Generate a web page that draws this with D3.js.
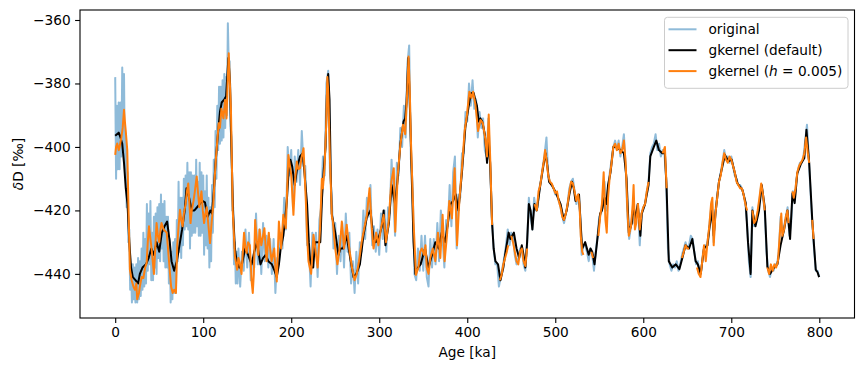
<!DOCTYPE html>
<html>
<head>
<meta charset="utf-8">
<script src="https://cdn.jsdelivr.net/npm/d3@7"></script>
<style>
  html, body { margin: 0; padding: 0; background: #fff; }
  svg { display: block; font-family: "DejaVu Sans", sans-serif; }
</style>
</head>
<body>
<svg id="chart" width="864" height="371"></svg>
<script>
// ---------------- DATA ----------------
const xTicks = [0, 100, 200, 300, 400, 500, 600, 700, 800];
const yTicks = [-440, -420, -400, -380, -360];
const xLabel = "Age [ka]";
const legendLabels = ["original", "gkernel (default)", "gkernel (h = 0.005)"];

// original record, 0–139 ka (1 ka steps)
const origSeg1 = [-378,-410,-387,-407,-386,-407,-386,-403,-375,-401,-377,-407,-396,-419,-408,-430,-426,-445,-437,-449,
  -437,-448,-438,-449,-437,-449,-435,-448,-436,-447,-432,-445,-427,-444,-429,-443,-418,-439,-421,-437,
  -417,-442,-427,-442,-422,-438,-421,-440,-419,-435,-418,-436,-415,-432,-418,-436,-417,-438,-422,-438,
  -422,-443,-429,-449,-433,-448,-430,-446,-429,-446,-423,-436,-411,-433,-416,-435,-416,-431,-410,-426,
  -409,-425,-405,-426,-408,-432,-408,-428,-409,-427,-409,-427,-404,-425,-411,-428,-405,-428,-408,-427,
  -409,-434,-414,-431,-409,-432,-416,-438,-419,-436,-412,-427,-404,-419,-395,-410,-387,-401,-381,-399,
  -381,-398,-379,-397,-377,-394,-378,-390,-361,-374,-373,-394,-397,-420,-419,-437,-430,-443,-433,-443];
// original record, 140–420 ka (2 ka steps)
const origSeg2 = [-432,-444,-433,-439,-426,-438,-427,-442,-435,-438,-421,-437,-426,-440,-424,-436,-428,-438,-429,-440,
  -429,-446,-435,-437,-427,-432,-416,-426,-400,-409,-401,-419,-403,-411,-401,-412,-395,-406,-406,-431,
  -431,-444,-427,-434,-427,-441,-423,-419,-403,-409,-380,-376,-408,-415,-432,-424,-440,-428,-436,-424,
  -438,-421,-433,-427,-443,-436,-446,-433,-443,-430,-433,-420,-429,-416,-422,-412,-431,-425,-433,-426,
  -434,-421,-429,-420,-433,-419,-421,-404,-416,-428,-405,-409,-394,-400,-387,-397,-374,-368,-404,-412,
  -440,-442,-432,-439,-428,-439,-428,-441,-444,-429,-438,-429,-437,-424,-436,-420,-429,-438,-423,-425,
  -412,-425,-408,-403,-432,-415,-416,-402,-402,-389,-392,-380,-387,-379,-388,-385,-397,-389,-394,-391,-401];
// original record, 422–800 ka (2 ka steps)
const origSeg3 = [-403,-391,-405,-422,-432,-437,-437,-444,-441,-438,-435,-431,-426,-431,-427,-428,-434,-437,-435,-432,
  -432,-437,-439,-431,-416,-422,-426,-416,-420,-419,-413,-410,-406,-402,-397,-409,-411,-412,-413,-415,
  -415,-417,-419,-422,-424,-421,-418,-413,-411,-410,-414,-418,-415,-420,-434,-431,-431,-433,-436,-432,
  -434,-439,-433,-428,-422,-421,-419,-411,-420,-413,-408,-404,-400,-398,-401,-398,-403,-400,-396,-406,
  -422,-429,-425,-420,-424,-422,-418,-431,-421,-419,-418,-414,-411,-402,-400,-399,-396,-401,-399,-403,
  -401,-402,-410,-432,-437,-439,-437,-438,-436,-439,-437,-434,-432,-430,-432,-431,-428,-429,-433,-437,
  -436,-440,-439,-433,-431,-431,-428,-422,-417,-430,-420,-415,-411,-408,-405,-401,-404,-403,-405,-403,
  -406,-409,-410,-412,-412,-413,-415,-418,-424,-436,-441,-419,-425,-424,-421,-417,-412,-416,-420,-433,
  -439,-441,-438,-439,-437,-437,-433,-422,-427,-425,-422,-419,-428,-424,-414,-417,-410,-407,-405,-405,
  -403,-398,-393,-403,-414,-424,-432,-439,-439,-441];

// gkernel with default bandwidth: [age ka, dD permil]
const gkDefault = [[0,-396.5],[2,-396],[4,-395.5],[6,-397],[8,-399],[10,-405],[12,-413],[14,-418],[16,-430],[18,-438],[20,-441],[23,-442],[26,-443],[28,-440],[31,-438],[35,-437],[38,-435],[41,-432],[44,-434],[47,-430],[50,-433],[53,-427],[56,-425],[59,-423.5],[62,-430],[64,-436],[67,-439],[70,-436],[73,-431],[76,-426],[79,-420],[81,-413],[84,-416],[87,-420],[90,-420],[93,-419],[96,-418],[99,-417],[102,-417.5],[105,-422],[108,-420],[110,-421],[112,-414],[114,-405],[117,-395],[119,-389],[121,-386],[124,-385],[126,-384],[128.6,-372],[130.5,-380],[132,-400],[134,-421],[136,-432],[138,-436],[141,-438],[144,-437],[147.6,-432],[151,-434],[155,-437],[158,-433],[161,-430],[165,-437],[168,-435],[171,-434],[174,-436],[178,-437],[181,-439],[183.6,-441],[186,-437],[188,-432],[191,-428],[193,-423],[195,-417],[197,-408],[199,-404],[201,-406],[204,-412],[207,-406],[210,-403],[213,-402],[215,-408],[218,-418],[220,-430],[222,-438],[225,-438],[227,-430],[230,-430],[233,-430],[235,-416],[237,-407],[239,-400],[240.5,-384],[242,-377],[243.5,-385],[245,-410],[246,-421],[250,-427],[253.7,-434],[256,-432],[259,-432],[263,-428],[267,-435],[270.8,-441],[274,-440],[278,-437],[282,-428],[286,-422],[290,-420],[293.5,-429],[296,-430],[300,-428],[303,-425],[305,-420],[307,-431],[311,-424],[314,-412],[318,-418],[321,-410],[324,-399],[327.6,-392],[329.5,-391],[331,-386],[333,-372],[335,-389],[337,-410],[339,-430],[341,-440],[344,-438],[347,-437],[350,-434],[352,-432],[356,-438],[360,-434],[363.7,-430],[367.5,-432],[371,-427],[375,-430],[378,-424],[381,-418],[384,-417],[387,-415],[390,-420],[394,-408],[397.8,-394],[400,-390],[403.5,-384],[405,-383],[407.3,-383],[409,-385],[411,-387],[413,-392],[415,-391],[417,-392],[420,-396],[422.5,-405],[424.4,-398],[426,-405],[428.2,-424],[430,-432],[432,-436],[435,-437],[437.7,-442],[441,-438],[443,-434],[445.3,-430],[447,-427],[449,-429],[451,-428],[453,-427],[456,-432],[459,-435],[462,-431],[464,-434],[466,-438],[468,-430],[470,-418],[472,-420],[474,-426],[476.3,-418],[479,-420],[483,-412],[487,-405],[489,-402],[491,-406],[493,-411],[496,-412],[500,-414],[503,-416],[506,-418],[509.7,-423],[513,-420],[516,-415],[519,-411],[521,-413],[523,-417],[527,-415],[529,-425],[530.6,-432],[534,-430],[538,-434],[540,-432],[542,-433],[544.6,-437],[547.5,-430],[551,-421],[553,-420],[556,-416],[558,-418],[560,-412],[562.8,-408],[566,-400],[570,-400],[574,-401],[578,-402],[581,-410],[583.6,-427],[587,-424],[589,-418],[591,-423],[593.7,-418],[596.7,-428],[598.3,-421],[602,-418],[606,-412],[608,-403],[612,-400],[614.8,-398],[617.8,-401],[621.6,-402],[624.6,-402],[626.5,-413],[629,-436],[633,-438],[637,-437],[641,-438.5],[644.4,-435],[648,-431],[652,-432],[655.7,-429],[659.5,-436],[662,-437],[665.2,-440],[669,-432],[673,-431],[675,-426],[678,-420],[680,-428],[682,-421],[686,-411],[690,-406],[692.8,-402.5],[696.6,-404.5],[700.4,-404],[703,-407],[707,-411.5],[712.6,-413.5],[716.4,-417.7],[719,-430],[722,-440],[724,-420],[727.5,-425],[731.5,-420],[734.6,-412],[738,-419],[741,-437.7],[744,-440],[748.6,-438],[752.4,-437],[756,-431],[760,-426],[763.8,-420],[766.8,-429],[769.5,-414.6],[772,-417.7],[775,-408.3],[779,-405.4],[783,-403.5],[785.4,-394.6],[788.5,-405],[792,-423],[794,-431],[796,-438.7],[798,-439.5],[799.8,-441]];

// gkernel with h = 0.005 (null = no estimate)
const gkH005 = [[0,-402.5],[1,-400],[2.3,-398.9],[4,-401],[5,-400],[7,-397],[8.5,-394],[10,-388.3],[11,-392],[12,-395],[13.7,-401],[15,-418],[16.7,-438.7],[18.7,-442],[20.7,-444],[22.4,-445],[24,-443],[25,-448],[27,-446],[28,-444],[30,-441],[32,-441.3],[34,-438],[35.7,-436.6],[37,-430],[38.4,-425],[40,-429],[41.3,-432],[43,-437],[44,-440],[45.5,-432],[47,-424],[48.5,-428],[50,-430],[51.5,-426],[52.6,-424],[55,-426],[58.5,-427],[60,-432],[62,-439],[63.5,-444],[65.3,-446],[67,-445],[69,-446],[70.5,-431],[72,-425],[73.6,-419.8],[75,-423],[76.6,-425],[78,-421],[80,-418],[81.5,-414],[83,-411.5],[85.6,-424],[87,-420],[89,-417],[90.5,-414],[92.6,-409.3],[94,-414],[95.6,-419],[98,-414],[99.5,-420],[101,-424],[102.5,-421],[104,-419],[106,-425],[107.7,-430.3],[109.5,-424],[111.5,-418],[113,-410],[114.6,-403],[116,-398],[117.6,-392.5],[119,-394],[120.7,-388],[123,-391],[124.8,-385.2],[126.5,-391],[127.5,-382],[129,-370.5],[130,-378],[131.5,-388],[133.5,-419.8],[136,-434.5],[138.6,-438.7],[140,-435],[141.6,-436.6],[143.5,-440],[146.4,-427],[148,-432],[149.4,-433.4],[151,-430],[153,-431],[155,-442.4],[156.3,-446],[157.5,-440],[159,-423],[161,-430],[162.5,-434],[164,-426],[166,-431],[168,-428],[169.5,-425.6],[172,-436],[174.5,-427],[176,-432],[177.7,-436],[180.7,-432],[182,-438],[183.6,-442.4],[186,-423.5],[188.5,-432],[191,-421.4],[193.8,-425.6],[195.5,-412],[196.8,-402.5],[198,-405],[200,-408.8],[202.5,-421.4],[204.5,-410],[206.3,-404.6],[208,-407],[210,-406.7],[212,-403],[214,-400.4],[216.6,-417],[218,-428],[219.6,-436],[222.6,-440],[225.3,-427.7],[227.3,-432],[230,-438],[232.8,-425.6],[234.8,-410],[236,-413],[237.8,-406.7],[239.5,-395],[241,-378],[242,-382],[244,-404],[246.2,-422],[247.3,-423.5],[250,-432],[252.5,-437],[255,-432],[257.5,-423.5],[260,-432],[263,-424.5],[266,-432],[269,-438],[272,-442],[274.5,-440],[277,-436],[280,-430],[283,-425.6],[286,-421.4],[289,-413],[291.5,-425.6],[293.5,-432],[296.5,-427],[299,-431],[302,-425.6],[305,-421.4],[307.7,-430],[310.7,-423.5],[313.7,-411],[316.5,-406.7],[318.2,-426.7],[321,-408.8],[324,-399.4],[327,-393],[329.5,-396],[331.5,-384.4],[333.3,-371.5],[334.5,-380],[336,-398],[339,-423.5],[341.7,-440.3],[344.5,-438],[346.5,-433],[348.4,-432],[351,-434],[352.5,-431],[354,-438],[356,-440],[358,-435],[360.8,-432],[363.7,-436],[366.7,-427],[369.4,-435],[372,-421.4],[374.3,-436],[377,-427.7],[379.6,-417],[382.6,-422.5],[385.7,-406.7],[388.4,-431],[391,-417],[394,-406.7],[397,-395],[399.7,-389.8],[402.4,-382.6],[404.7,-384.6],[406.6,-382.6],[409.3,-386.7],[412.3,-395],[415,-391.5],[417.7,-392.5],[420.6,-397.6],[422.5,-403],[424.4,-389.8],[426.3,-405.4],[428.2,-424.6],[432,null],
  [437,-442],[439,-440.3],[441,-437],[443,-435],[445,-433],[446.5,-431],[448,null],[450,-428],[452,-430],[454,-433],[456,-436],[458,-437],[460,-433],[462,-432],[464,-436],[466,-437.5],[468,-432],[470,null],
  [476.5,-418],[479,-420],[481,-414],[483,-412],[485,-408],[487,-404.5],[488.5,-401],[490,-404],[492,-409],[494,-411],[496,-411.5],[498,-413],[500,-414.5],[502,-414],[504,-417],[506,-419],[508,-422],[510,-423],[512,-421],[514,-418],[516,-414],[518,-411],[520,-411.5],[522,-414],[524,-417],[526,-415],[527.5,-418],[529,-428],[530.6,-433],[532,-434],[533,null],
  [541,-433],[543,-435],[544,null],[549,-428],[551,-422],[553,-418],[555,-408],[557,-423],[558.5,-427],[560,-416],[562,-409],[564,-405],[566,-400],[568,-399],[570,-401],[572,-399],[574,-402],[576,-401],[578,-398],[580,-405],[582,-420],[583.6,-428],[586,-425],[588,-418],[589,-412],[590.5,-426],[592,-424],[594,-418],[596,-426],[598,-421],[600,-419],[602,-418],[604,-414],[606,-411],[607,null],
  [622,-402],[624.6,-400],[626.5,-413],[627,null],[644,-435],[646,-433],[648,-431],[650,-432],[652,-432],[653,null],
  [661,-438],[663,-440],[665,-441],[667,-436],[669,-431],[671,-436],[673,-430],[675,-425],[677,-418],[678.5,-416],[680,-431],[682,-421],[684,-416],[686,-411],[688,-409],[690,-405],[692,-402],[694,-404],[696,-405],[698,-403],[700,-404],[702,-406],[704,-408],[706,-411],[708,-412],[710,-413],[712,-413],[714,-415],[716,-418],[718,-420],[719,null],
  [724,-420],[726,-424],[728,-423],[730,-420],[732,-416],[734,-411.5],[736,-415],[738,-420],[739,null],[741,-438],[743,-440],[745,-437],[747,-439],[749,-437],[751,-438],[753,-436],[755,-428],[756.8,-421],[758,-428],[760,-426],[762,-422],[763.8,-420],[765,-424],[766,null],
  [769.5,-414],[771,-416],[773,-413],[775,-408],[777,-406],[779,-405],[781,-404],[783,-402],[785,-397],[787,-402],[788.5,-405],[789,null],[792,-423],[793.5,-429]];

// ---------------- BUILD ----------------
const original = [
  ...origSeg1.map((v, i) => [i, v]),
  ...origSeg2.map((v, i) => [140 + 2 * i, v]),
  ...origSeg3.map((v, i) => [422 + 2 * i, v])
];

const W = 864, H = 371;
const m = { left: 80, right: 854.5, top: 10, bottom: 318 };
const svg = d3.select("#chart");

const x = d3.scaleLinear().domain([-40, 840]).range([m.left, m.right]);
const y = d3.scaleLinear().domain([-453.9, -356.85]).range([m.bottom, m.top]);

const fs = 13.7;

const plot = svg.append("g");
plot.append("clipPath").attr("id", "clip").append("rect")
  .attr("x", m.left).attr("y", m.top).attr("width", m.right - m.left).attr("height", m.bottom - m.top);

const line = d3.line().defined(d => d[1] != null).x(d => x(d[0])).y(d => y(d[1]));

const g = plot.append("g").attr("clip-path", "url(#clip)");
g.append("path").datum(original).attr("d", line)
  .attr("fill", "none").attr("stroke", "#1f77b4").attr("stroke-opacity", 0.5)
  .attr("stroke-width", 2.0).attr("stroke-linejoin", "round");
g.append("path").datum(gkDefault).attr("d", line)
  .attr("fill", "none").attr("stroke", "#000").attr("stroke-width", 2.0).attr("stroke-linejoin", "round");
g.append("path").datum(gkH005).attr("d", line)
  .attr("fill", "none").attr("stroke", "#ff7f0e").attr("stroke-width", 2.0).attr("stroke-linejoin", "round");

// axes
const xAxis = d3.axisBottom(x).tickValues(xTicks).tickSize(4.9).tickPadding(4.4)
  .tickFormat(d => String(d).replace("-", "\u2212"));
const yAxis = d3.axisLeft(y).tickValues(yTicks).tickSize(4.9).tickPadding(4.4)
  .tickFormat(d => String(d).replace("-", "\u2212"));

const gx = svg.append("g").attr("transform", `translate(0,${m.bottom})`).call(xAxis);
const gy = svg.append("g").attr("transform", `translate(${m.left},0)`).call(yAxis);
[gx, gy].forEach(ax => {
  ax.select(".domain").remove();
  ax.selectAll("line").attr("stroke", "#000").attr("stroke-width", 1.1);
  ax.selectAll("text").attr("fill", "#000").style("font-size", fs + "px")
    .style("font-family", "DejaVu Sans, sans-serif");
});

// frame
svg.append("rect").attr("x", m.left).attr("y", m.top)
  .attr("width", m.right - m.left).attr("height", m.bottom - m.top)
  .attr("fill", "none").attr("stroke", "#000").attr("stroke-width", 1.1);

// axis labels
svg.append("text").attr("x", (m.left + m.right) / 2).attr("y", 357)
  .attr("text-anchor", "middle").style("font-size", fs + "px").text(xLabel);
const yl = svg.append("text").attr("transform", `translate(23,${(m.top + m.bottom) / 2}) rotate(-90)`)
  .attr("text-anchor", "middle").style("font-size", fs + "px");
yl.append("tspan").attr("font-style", "italic").text("\u03b4");
yl.append("tspan").text("D [\u2030]");

// legend
const lg = svg.append("g");
lg.append("rect").attr("x", 664.5).attr("y", 17.3).attr("width", 183.5).attr("height", 71)
  .attr("rx", 3).attr("fill", "#fff").attr("fill-opacity", 0.8)
  .attr("stroke", "#cccccc").attr("stroke-width", 1);
const rows = [29.3, 50.2, 71.1];
const styles = [
  { c: "#1f77b4", o: 0.5 }, { c: "#000", o: 1 }, { c: "#ff7f0e", o: 1 }
];
rows.forEach((ry, i) => {
  lg.append("line").attr("x1", 668.5).attr("x2", 696.5).attr("y1", ry).attr("y2", ry)
    .attr("stroke", styles[i].c).attr("stroke-opacity", styles[i].o).attr("stroke-width", 2);
  const t = lg.append("text").attr("x", 708.5).attr("y", ry + 4.9).style("font-size", fs + "px");
  if (i < 2) t.text(legendLabels[i]);
  else {
    t.append("tspan").text("gkernel (");
    t.append("tspan").attr("font-style", "italic").text("h");
    t.append("tspan").text(" = 0.005)");
  }
});
</script>
</body>
</html>
